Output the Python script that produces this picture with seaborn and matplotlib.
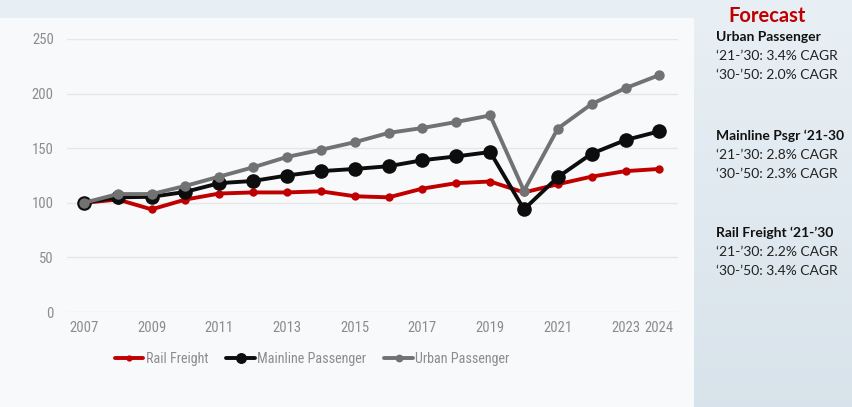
import numpy as np
import pandas as pd
import matplotlib
matplotlib.use("Agg")
import matplotlib.pyplot as plt
import seaborn as sns
from matplotlib.patches import Rectangle

years = list(range(2007, 2025))
rail_freight = [100, 103, 94, 103, 108.5, 109.5, 109.5, 110.5, 106, 105, 113, 118, 119.5,
                109.5, 117, 124, 129, 131]
mainline_passenger = [100, 105, 105.5, 110, 118, 120, 125, 129, 131, 133.5, 139, 142.5, 146.5,
                      94, 123.5, 145, 157.5, 165.5]
urban_passenger = [100, 108, 108, 115.5, 124, 132.5, 142, 148.5, 155.5, 164, 168.5, 174, 180,
                   111, 168, 190.5, 205, 217]

series_names = ["Rail Freight", "Mainline Passenger", "Urban Passenger"]
series_colors = ["#c00000", "#0d0d0d", "#727272"]
x_ticks = [2007, 2009, 2011, 2013, 2015, 2017, 2019, 2021, 2023, 2024]
y_ticks = [0, 50, 100, 150, 200, 250]

forecast_title = "Forecast"
forecast_blocks = [
    ("Urban Passenger", ["\u201821-\u201930: 3.4% CAGR", "\u201830-\u201950: 2.0% CAGR"]),
    ("Mainline Psgr \u201821-30", ["\u201821-\u201930: 2.8% CAGR", "\u201830-\u201950: 2.3% CAGR"]),
    ("Rail Freight \u201821-\u201930", ["\u201821-\u201930: 2.2% CAGR", "\u201830-\u201950: 3.4% CAGR"]),
]

df = pd.DataFrame({
    "year": years * 3,
    "value": rail_freight + mainline_passenger + urban_passenger,
    "series": sum([[n] * len(years) for n in series_names], []),
})

sns.set_theme(style="white")
narrow = ["Roboto Condensed", "Liberation Sans Narrow", "Liberation Sans", "DejaVu Sans"]
plt.rcParams["font.family"] = narrow

W, H = 852, 407
fig = plt.figure(figsize=(W / 100, H / 100), dpi=100)
fig.patch.set_facecolor("#eef2f5")

# background: pale slide with a bluish side panel
bg = fig.add_axes([0, 0, 1, 1], zorder=-10)
bg.set_xlim(0, W)
bg.set_ylim(H, 0)
bg.axis("off")
grad = np.linspace(0, 1, 64).reshape(-1, 1)
panel = np.dstack([
    0.91 - 0.06 * grad, 0.94 - 0.05 * grad, 0.96 - 0.04 * grad
])
bg.imshow(panel, extent=[0, W, H, 0], aspect="auto")
bg.add_patch(Rectangle((0, 18), 694, H - 18, facecolor="#f8f9fb", edgecolor="none"))

ax = fig.add_axes([67 / W, (H - 312) / H, (678 - 67) / W, (312 - 39) / H])
ax.set_facecolor("none")

marker_sizes = {"Rail Freight": 6, "Mainline Passenger": 10.5, "Urban Passenger": 7.5}
layer = {"Rail Freight": 3, "Mainline Passenger": 4, "Urban Passenger": 5}
for name, color in zip(series_names, series_colors):
    sub = df[df["series"] == name]
    sns.lineplot(data=sub, x="year", y="value", ax=ax, color=color, linewidth=2.8,
                 marker="o", markersize=marker_sizes[name], markeredgewidth=0,
                 label=name, zorder=layer[name])

ax.set_xlim(2006.5, 2024.55)
ax.set_ylim(0, 250)
ax.set_xticks(x_ticks)
ax.set_yticks(y_ticks)
ax.set_xlabel("")
ax.set_ylabel("")
for s in ax.spines.values():
    s.set_visible(False)
ax.grid(axis="y", color="#e4e6e9", linewidth=1)
ax.set_axisbelow(True)
ax.tick_params(axis="both", length=0, labelsize=10.5, labelcolor="#8c8c8c")
ax.tick_params(axis="x", pad=6.5)
ax.tick_params(axis="y", pad=9.5)

leg = ax.legend(loc="center left",
                bbox_to_anchor=((108 - 67) / 611, (312 - 359) / (312 - 39)),
                ncol=3, frameon=False, fontsize=10.2, handlelength=2.0,
                handletextpad=0.15, columnspacing=1.3, borderpad=0,
                markerscale=0.75)
for t in leg.get_texts():
    t.set_color("#8c8c8c")

# forecast notes on the side panel
side = ["Lato", "Open Sans", "DejaVu Sans"]
bg.text(767, 16, forecast_title, ha="center", va="center", color="#c00000",
        fontsize=14.5, fontweight="bold", family=side)
block_y = [37, 136, 233]
for (head, lines), y0 in zip(forecast_blocks, block_y):
    bg.text(716, y0, head, ha="left", va="center", color="#111111",
            fontsize=10, fontweight="bold", family=side)
    for i, line in enumerate(lines):
        bg.text(716, y0 + 19 * (i + 1), line, ha="left", va="center",
                color="#222222", fontsize=10, family=side)

fig.savefig("out.png", dpi=100, facecolor=fig.get_facecolor())
